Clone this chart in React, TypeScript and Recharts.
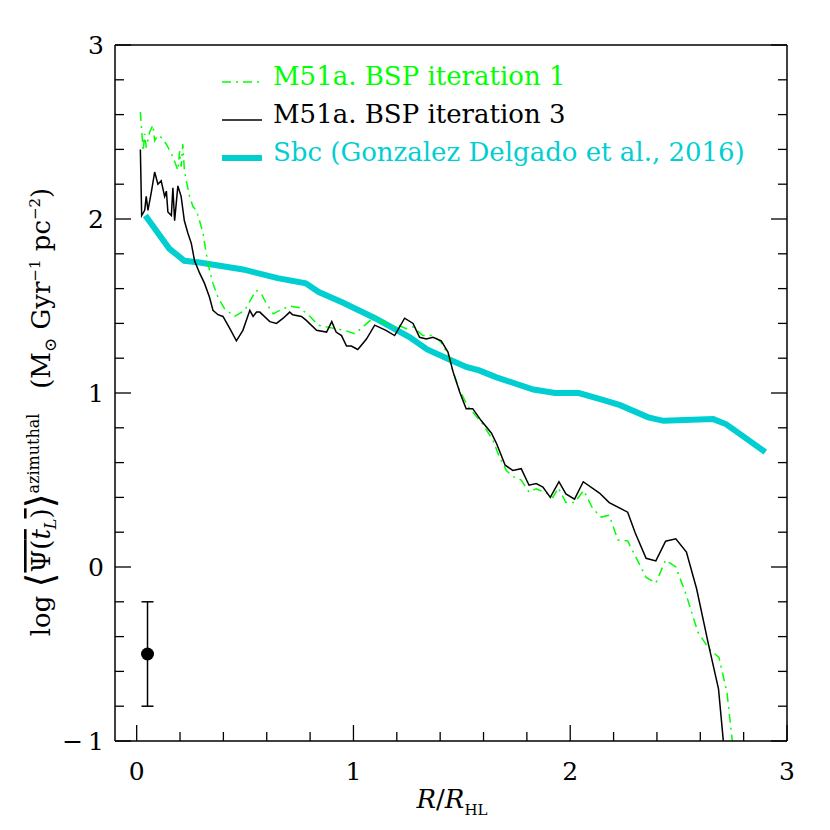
import React from "react";
import {
  ComposedChart,
  Line,
  Scatter,
  ErrorBar,
  XAxis,
  YAxis,
  Legend,
} from "recharts";

const FONT = '"DejaVu Serif", "Liberation Serif", serif';
const GREEN = "#00ff00";
const CYAN = "#00ced1";
const BLACK = "#000000";

// R/R_HL, log Psi
const iteration1: [number, number][] = [
  [0.017, 2.615], [0.03, 2.39], [0.037, 2.49], [0.044, 2.41], [0.06, 2.5],
  [0.075, 2.54], [0.083, 2.45], [0.098, 2.48], [0.113, 2.47], [0.137, 2.43],
  [0.16, 2.375], [0.175, 2.33], [0.19, 2.28], [0.198, 2.39], [0.205, 2.3],
  [0.213, 2.43], [0.22, 2.28], [0.229, 2.22], [0.244, 2.13], [0.26, 2.07],
  [0.275, 2.05], [0.29, 1.99], [0.306, 1.92], [0.321, 1.8], [0.336, 1.705],
  [0.352, 1.63], [0.375, 1.55], [0.405, 1.485], [0.452, 1.44], [0.498, 1.475],
  [0.551, 1.59], [0.575, 1.57], [0.6, 1.51], [0.63, 1.455], [0.66, 1.475],
  [0.706, 1.5], [0.752, 1.49], [0.8, 1.44], [0.837, 1.39], [0.876, 1.38],
  [0.914, 1.37], [0.96, 1.36], [1.006, 1.34], [1.044, 1.38], [1.098, 1.44],
  [1.136, 1.41], [1.175, 1.38], [1.206, 1.39], [1.244, 1.37], [1.275, 1.38],
  [1.32, 1.33], [1.367, 1.33], [1.405, 1.29], [1.436, 1.22], [1.46, 1.12],
  [1.49, 1.015], [1.53, 0.92], [1.597, 0.82], [1.643, 0.73], [1.674, 0.63],
  [1.705, 0.555], [1.735, 0.52], [1.774, 0.5], [1.81, 0.43], [1.843, 0.45],
  [1.89, 0.425], [1.92, 0.4], [1.945, 0.455], [1.98, 0.37], [2.02, 0.37],
  [2.062, 0.44], [2.104, 0.335], [2.143, 0.287], [2.18, 0.297], [2.22, 0.155],
  [2.265, 0.15], [2.35, -0.06], [2.395, -0.092], [2.44, 0.04], [2.487, 0.0],
  [2.535, -0.16], [2.589, -0.375], [2.64, -0.47], [2.686, -0.52], [2.723, -0.72],
  [2.752, -1.05],
];

const iteration3: [number, number][] = [
  [0.017, 2.4], [0.023, 2.02], [0.037, 2.05], [0.044, 2.13], [0.052, 2.05],
  [0.067, 2.15], [0.083, 2.27], [0.098, 2.2], [0.113, 2.22], [0.129, 2.13],
  [0.137, 2.16], [0.144, 2.04], [0.16, 2.02], [0.167, 2.18], [0.175, 1.99],
  [0.19, 2.19], [0.205, 2.13], [0.22, 1.99], [0.236, 1.92], [0.252, 1.86],
  [0.267, 1.76], [0.29, 1.69], [0.313, 1.63], [0.336, 1.55], [0.352, 1.475],
  [0.375, 1.45], [0.398, 1.44], [0.43, 1.37], [0.46, 1.3], [0.49, 1.36],
  [0.522, 1.475], [0.537, 1.44], [0.553, 1.465], [0.568, 1.465], [0.614, 1.41],
  [0.645, 1.4], [0.676, 1.43], [0.706, 1.465], [0.72, 1.45], [0.76, 1.44],
  [0.78, 1.42], [0.83, 1.36], [0.876, 1.35], [0.9, 1.41], [0.92, 1.35],
  [0.945, 1.33], [0.968, 1.27], [0.99, 1.27], [1.02, 1.25], [1.06, 1.31],
  [1.098, 1.39], [1.15, 1.36], [1.19, 1.33], [1.236, 1.43], [1.275, 1.4],
  [1.305, 1.32], [1.336, 1.31], [1.367, 1.32], [1.405, 1.3], [1.436, 1.235],
  [1.46, 1.12], [1.49, 1.006], [1.52, 0.91], [1.55, 0.91], [1.59, 0.84],
  [1.636, 0.77], [1.66, 0.71], [1.7, 0.585], [1.735, 0.555], [1.774, 0.565],
  [1.81, 0.47], [1.843, 0.48], [1.874, 0.46], [1.908, 0.4], [1.948, 0.49],
  [1.98, 0.42], [2.02, 0.39], [2.06, 0.49], [2.135, 0.425], [2.18, 0.37],
  [2.265, 0.315], [2.3, 0.195], [2.35, 0.05], [2.395, 0.035], [2.44, 0.148],
  [2.487, 0.162], [2.536, 0.086], [2.583, -0.125], [2.637, -0.44], [2.684, -0.7],
  [2.71, -1.05],
];

const sbc: [number, number][] = [
  [0.04, 2.02], [0.15, 1.83], [0.22, 1.76], [0.29, 1.75], [0.49, 1.71],
  [0.65, 1.66], [0.78, 1.63], [0.84, 1.58], [0.95, 1.52], [1.1, 1.43],
  [1.26, 1.32], [1.34, 1.25], [1.43, 1.2], [1.52, 1.15], [1.58, 1.13],
  [1.66, 1.09], [1.83, 1.02], [1.93, 1.0], [2.04, 1.0], [2.15, 0.96],
  [2.23, 0.93], [2.36, 0.86], [2.43, 0.84], [2.66, 0.85], [2.72, 0.82],
  [2.9, 0.66],
];

// typical error bar
const errX = [0.05];
const errY = [-0.5];
const errSize = [0.3];

const xTicks = [0, 0.2, 0.4, 0.6, 0.8, 1, 1.2, 1.4, 1.6, 1.8, 2, 2.2, 2.4, 2.6, 2.8, 3];
const yTicks = [
  -1, -0.8, -0.6, -0.4, -0.2, 0, 0.2, 0.4, 0.6, 0.8, 1, 1.2, 1.4, 1.6, 1.8, 2,
  2.2, 2.4, 2.6, 2.8, 3,
];

const legendRows = [
  { label: "M51a. BSP iteration 1", color: GREEN, width: 1.5, dash: "9 5 2 5" },
  { label: "M51a. BSP iteration 3", color: BLACK, width: 1.5, dash: undefined },
  { label: "Sbc (Gonzalez Delgado et al., 2016)", color: CYAN, width: 6, dash: undefined },
];

const toRows = (pts: [number, number][]) => pts.map(([x, y]) => ({ x, y }));

const isMajor = (v: number) => Math.abs(v - Math.round(v)) < 1e-6;
const fmt = (v: number) => (v < 0 ? "\u2212\u2009" + Math.abs(v) : String(v));

const MAJOR = 16;
const MINOR = 9;

function tickFor(side: "bottom" | "top" | "left" | "right") {
  return (props: any) => {
    const { x, y, payload } = props;
    const v = payload.value as number;
    const len = isMajor(v) ? MAJOR : MINOR;
    let line;
    if (side === "bottom") line = <line x1={x} x2={x} y1={y} y2={y - len} />;
    else if (side === "top") line = <line x1={x} x2={x} y1={y} y2={y + len} />;
    else if (side === "left") line = <line x1={x} x2={x + len} y1={y} y2={y} />;
    else line = <line x1={x} x2={x - len} y1={y} y2={y} />;
    return (
      <g stroke="#000" strokeWidth={1.3}>
        {line}
        {side === "bottom" && isMajor(v) && (
          <text x={x} y={y + 39} textAnchor="middle" fontFamily={FONT} fontSize={25} stroke="none" fill="#000">
            {fmt(v)}
          </text>
        )}
        {side === "left" && isMajor(v) && (
          <text x={x - 11} y={y + 9} textAnchor="end" fontFamily={FONT} fontSize={25} stroke="none" fill="#000">
            {fmt(v)}
          </text>
        )}
      </g>
    );
  };
}

function YTitle() {
  return (
    <text
      transform="translate(50 412) rotate(-90)"
      textAnchor="middle"
      fontFamily={FONT}
      fontSize={26}
      fill="#000"
      style={{ whiteSpace: "pre" }}
    >
      <tspan>log </tspan>
      <tspan fontSize={38} dy={3}>⟨</tspan>
      <tspan dy={-3} textDecoration="overline">Ψ(</tspan>
      <tspan fontStyle="italic" textDecoration="overline">t</tspan>
      <tspan fontSize={16} fontStyle="italic" dy={6}>L</tspan>
      <tspan dy={-6} textDecoration="overline">)</tspan>
      <tspan fontSize={38} dy={3}>⟩</tspan>
      <tspan fontSize={16} dy={-14}>azimuthal</tspan>
      <tspan dy={11}>{"   (M"}</tspan>
      <tspan fontSize={17} dy={6}>⊙</tspan>
      <tspan dy={-6}> Gyr</tspan>
      <tspan fontSize={15} dy={-10}>−1</tspan>
      <tspan dy={10}> pc</tspan>
      <tspan fontSize={15} dy={-10}>−2</tspan>
      <tspan dy={10}>)</tspan>
    </text>
  );
}

function XTitle() {
  return (
    <text x={452} y={808} textAnchor="middle" fontFamily={FONT} fontSize={26} fill="#000">
      <tspan fontStyle="italic">R</tspan>/<tspan fontStyle="italic">R</tspan>
      <tspan fontSize={15} dy={7}>HL</tspan>
    </text>
  );
}

function LegendBox() {
  return (
    <div style={{ fontFamily: FONT, fontSize: 26 }}>
      {legendRows.map((r) => (
        <div
          key={r.label}
          style={{ display: "flex", alignItems: "center", height: 38, color: r.color, whiteSpace: "pre" }}
        >
          <svg width={42} height={26} style={{ marginRight: 9 }}>
            <line x1={0} x2={40} y1={19} y2={19} stroke={r.color} strokeWidth={r.width} strokeDasharray={r.dash} />
          </svg>
          <span>{r.label}</span>
        </div>
      ))}
    </div>
  );
}

const ErrDot = (props: any) => <circle cx={props.cx} cy={props.cy} r={6.5} fill="#000" />;

const axisStroke = { stroke: "#000", strokeWidth: 1.5 };

export default function App() {
  const errData = errX.map((x, i) => ({ x, y: errY[i], err: errSize[i] }));
  return (
    <div style={{ position: "absolute", left: 0, top: 0, width: 830, height: 830, background: "#fff" }}>
      <ComposedChart width={830} height={830} margin={{ top: 0, right: 0, bottom: 0, left: 0 }}>
        <XAxis
          xAxisId={0}
          dataKey="x"
          type="number"
          domain={[-0.1, 3]}
          allowDataOverflow
          ticks={xTicks}
          interval={0}
          height={89}
          tickSize={0}
          tickMargin={0}
          tickLine={false}
          axisLine={axisStroke}
          tick={tickFor("bottom")}
          label={<XTitle />}
        />
        <XAxis
          xAxisId="top"
          orientation="top"
          type="number"
          domain={[-0.1, 3]}
          allowDataOverflow
          ticks={xTicks}
          interval={0}
          height={45}
          tickSize={0}
          tickMargin={0}
          tickLine={false}
          axisLine={axisStroke}
          tick={tickFor("top")}
        />
        <YAxis
          yAxisId={0}
          dataKey="y"
          type="number"
          domain={[-1, 3]}
          allowDataOverflow
          ticks={yTicks}
          interval={0}
          width={115}
          tickSize={0}
          tickMargin={0}
          tickLine={false}
          axisLine={axisStroke}
          tick={tickFor("left")}
          label={<YTitle />}
        />
        <YAxis
          yAxisId="right"
          orientation="right"
          type="number"
          domain={[-1, 3]}
          allowDataOverflow
          ticks={yTicks}
          interval={0}
          width={43}
          tickSize={0}
          tickMargin={0}
          tickLine={false}
          axisLine={axisStroke}
          tick={tickFor("right")}
        />
        <Legend
          layout="vertical"
          align="center"
          verticalAlign="middle"
          content={() => <LegendBox />}
          wrapperStyle={{ left: 222, top: 57, width: 560, height: 120 }}
        />
        <Line
          data={toRows(sbc)}
          dataKey="y"
          type="linear"
          stroke={CYAN}
          strokeWidth={6}
          dot={false}
          isAnimationActive={false}
        />
        <Line
          data={toRows(iteration1)}
          dataKey="y"
          type="linear"
          stroke={GREEN}
          strokeWidth={1.5}
          strokeDasharray="9 5 2 5"
          dot={false}
          isAnimationActive={false}
        />
        <Line
          data={toRows(iteration3)}
          dataKey="y"
          type="linear"
          stroke={BLACK}
          strokeWidth={1.5}
          dot={false}
          isAnimationActive={false}
        />
        <Scatter data={errData} dataKey="y" shape={ErrDot} isAnimationActive={false}>
          <ErrorBar dataKey="err" direction="y" width={6} stroke="#000" strokeWidth={1.5} isAnimationActive={false} />
        </Scatter>
      </ComposedChart>
    </div>
  );
}
